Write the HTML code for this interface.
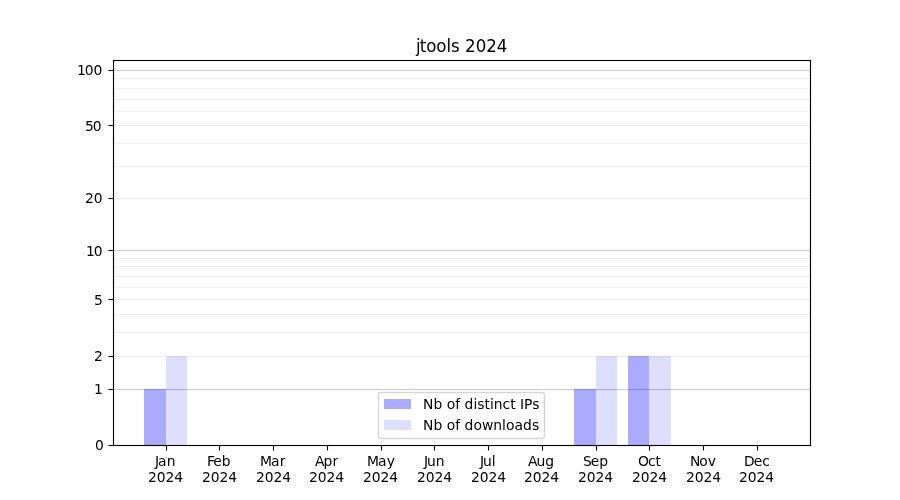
<!DOCTYPE html>
<html lang="en"><head><meta charset="utf-8"><title>jtools 2024</title>
<style>html,body{margin:0;padding:0;background:#fff}body{width:900px;height:500px;overflow:hidden}svg{display:block}text{font-family:"DejaVu Sans", "Liberation Sans", sans-serif;fill:#000}.t{font-size:13.889px}.ti{font-size:16.667px}.m{text-anchor:middle}.e{text-anchor:end}</style></head><body>
<svg width="900" height="500" viewBox="0 0 900 500">
<rect width="900" height="500" fill="#fff"/>
<rect x="112.5" y="355.945" width="697.5" height="1.111" fill="#eeeeee"/>
<rect x="112.5" y="331.945" width="697.5" height="1.111" fill="#eeeeee"/>
<rect x="112.5" y="313.945" width="697.5" height="1.111" fill="#eeeeee"/>
<rect x="112.5" y="298.945" width="697.5" height="1.111" fill="#eeeeee"/>
<rect x="112.5" y="286.945" width="697.5" height="1.111" fill="#eeeeee"/>
<rect x="112.5" y="275.945" width="697.5" height="1.111" fill="#eeeeee"/>
<rect x="112.5" y="265.945" width="697.5" height="1.111" fill="#eeeeee"/>
<rect x="112.5" y="257.945" width="697.5" height="1.111" fill="#eeeeee"/>
<rect x="112.5" y="197.945" width="697.5" height="1.111" fill="#eeeeee"/>
<rect x="112.5" y="165.945" width="697.5" height="1.111" fill="#eeeeee"/>
<rect x="112.5" y="142.945" width="697.5" height="1.111" fill="#eeeeee"/>
<rect x="112.5" y="124.945" width="697.5" height="1.111" fill="#eeeeee"/>
<rect x="112.5" y="110.945" width="697.5" height="1.111" fill="#eeeeee"/>
<rect x="112.5" y="98.945" width="697.5" height="1.111" fill="#eeeeee"/>
<rect x="112.5" y="87.945" width="697.5" height="1.111" fill="#eeeeee"/>
<rect x="112.5" y="77.945" width="697.5" height="1.111" fill="#eeeeee"/>
<rect x="112.5" y="388.945" width="697.5" height="1.111" fill="#cccccc"/>
<rect x="112.5" y="249.945" width="697.5" height="1.111" fill="#cccccc"/>
<rect x="112.5" y="69.945" width="697.5" height="1.111" fill="#cccccc"/>
<rect x="144" y="389" width="22" height="56" fill="#0000ff" fill-opacity="0.3333" shape-rendering="crispEdges"/>
<rect x="166" y="356" width="21" height="89" fill="#0000ff" fill-opacity="0.1300" shape-rendering="crispEdges"/>
<rect x="574" y="389" width="22" height="56" fill="#0000ff" fill-opacity="0.3333" shape-rendering="crispEdges"/>
<rect x="596" y="356" width="21" height="89" fill="#0000ff" fill-opacity="0.1300" shape-rendering="crispEdges"/>
<rect x="628" y="356" width="21" height="89" fill="#0000ff" fill-opacity="0.3333" shape-rendering="crispEdges"/>
<rect x="649" y="356" width="22" height="89" fill="#0000ff" fill-opacity="0.1300" shape-rendering="crispEdges"/>
<rect x="165.945" y="445.5" width="1.111" height="5" fill="#000"/>
<rect x="218.945" y="445.5" width="1.111" height="5" fill="#000"/>
<rect x="272.945" y="445.5" width="1.111" height="5" fill="#000"/>
<rect x="326.945" y="445.5" width="1.111" height="5" fill="#000"/>
<rect x="380.945" y="445.5" width="1.111" height="5" fill="#000"/>
<rect x="433.945" y="445.5" width="1.111" height="5" fill="#000"/>
<rect x="487.945" y="445.5" width="1.111" height="5" fill="#000"/>
<rect x="541.944" y="445.5" width="1.111" height="5" fill="#000"/>
<rect x="595.944" y="445.5" width="1.111" height="5" fill="#000"/>
<rect x="648.944" y="445.5" width="1.111" height="5" fill="#000"/>
<rect x="702.944" y="445.5" width="1.111" height="5" fill="#000"/>
<rect x="756.944" y="445.5" width="1.111" height="5" fill="#000"/>
<rect x="108.5" y="444.945" width="5" height="1.111" fill="#000"/>
<rect x="108.5" y="388.945" width="5" height="1.111" fill="#000"/>
<rect x="108.5" y="355.945" width="5" height="1.111" fill="#000"/>
<rect x="108.5" y="298.945" width="5" height="1.111" fill="#000"/>
<rect x="108.5" y="249.945" width="5" height="1.111" fill="#000"/>
<rect x="108.5" y="197.945" width="5" height="1.111" fill="#000"/>
<rect x="108.5" y="124.945" width="5" height="1.111" fill="#000"/>
<rect x="108.5" y="69.945" width="5" height="1.111" fill="#000"/>
<rect x="112.944" y="59.944" width="1.111" height="386.111" fill="#000"/><rect x="809.944" y="59.944" width="1.111" height="386.111" fill="#000"/><rect x="112.944" y="59.944" width="698.111" height="1.111" fill="#000"/><rect x="112.944" y="444.944" width="698.111" height="1.111" fill="#000"/>
<rect x="378.5" y="392.5" width="166" height="46" rx="2.78" ry="2.78" fill="#fff" stroke="#ccc" stroke-width="1.389" opacity="0.8"/>
<rect x="384" y="399" width="27" height="10" fill="#0000ff" fill-opacity="0.3333" shape-rendering="crispEdges"/>
<rect x="384" y="420" width="27" height="10" fill="#0000ff" fill-opacity="0.13" shape-rendering="crispEdges"/>
<text class="t" x="155 158 166.625" y="466">Jan</text>
<text class="t" x="147.875 156.625 165.375 174.125" y="482">2024</text>
<text class="t" x="206.875 213.125 221.625" y="466">Feb</text>
<text class="t" x="201.875 210.625 219.375 228.125" y="482">2024</text>
<text class="t" x="260 271 279.625" y="466">Mar</text>
<text class="t" x="255.875 264.625 273.375 282.125" y="482">2024</text>
<text class="t" x="315 323.5 332.375" y="466">Apr</text>
<text class="t" x="308.875 317.625 326.375 335.125" y="482">2024</text>
<text class="t" x="367 378 386.625" y="466">May</text>
<text class="t" x="363 371.75 380.5 389.25" y="482">2024</text>
<text class="t" x="423.875 426.875 435.625" y="466">Jun</text>
<text class="t" x="416.875 425.625 434.375 443.125" y="482">2024</text>
<text class="t" x="479.875 482.875 491.625" y="466">Jul</text>
<text class="t" x="470.875 479.625 488.375 497.125" y="482">2024</text>
<text class="t" x="527.875 536.375 545.125" y="466">Aug</text>
<text class="t" x="523.875 532.625 541.375 550.125" y="482">2024</text>
<text class="t" x="582.875 590.625 599.125" y="466">Sep</text>
<text class="t" x="577.875 586.625 595.375 604.125" y="482">2024</text>
<text class="t" x="638 647.875 655.5" y="466">Oct</text>
<text class="t" x="631.875 640.625 649.375 658.125" y="482">2024</text>
<text class="t" x="689.875 699.25 707.75" y="466">Nov</text>
<text class="t" x="685.875 694.625 703.375 712.125" y="482">2024</text>
<text class="t" x="743.875 753.625 762.125" y="466">Dec</text>
<text class="t" x="738.875 747.625 756.375 765.125" y="482">2024</text>
<text class="t" x="94.875" y="450">0</text>
<text class="t" x="93.875" y="394">1</text>
<text class="t" x="93.875" y="361">2</text>
<text class="t" x="93.875" y="305">5</text>
<text class="t" x="85.875 93.75" y="256">10</text>
<text class="t" x="84.875 93.625" y="203">20</text>
<text class="t" x="84.875 92.625" y="131">50</text>
<text class="t" x="76.875 84.75 93.5" y="75">100</text>
<text class="ti" transform="translate(0 52) scale(1 1.083)" x="416.125 419.75 426.25 436.375 446.5 451.125 459.875 465.125 475.75 486.25 496.875" y="0">jtools 2024</text>
<text class="t" x="423 433.375 442.25 446.625 455.125 460.125 464.5 473.375 477.25 484.375 489.875 493.75 502.5 510.125 515.625 520 524 532.125" y="409">Nb of distinct IPs</text>
<text class="t" x="423 433.375 442.25 446.625 455.125 460.125 464.5 473.375 481.875 493.25 502 505.875 514.375 523 531.875" y="430">Nb of downloads</text>
</svg></body></html>
